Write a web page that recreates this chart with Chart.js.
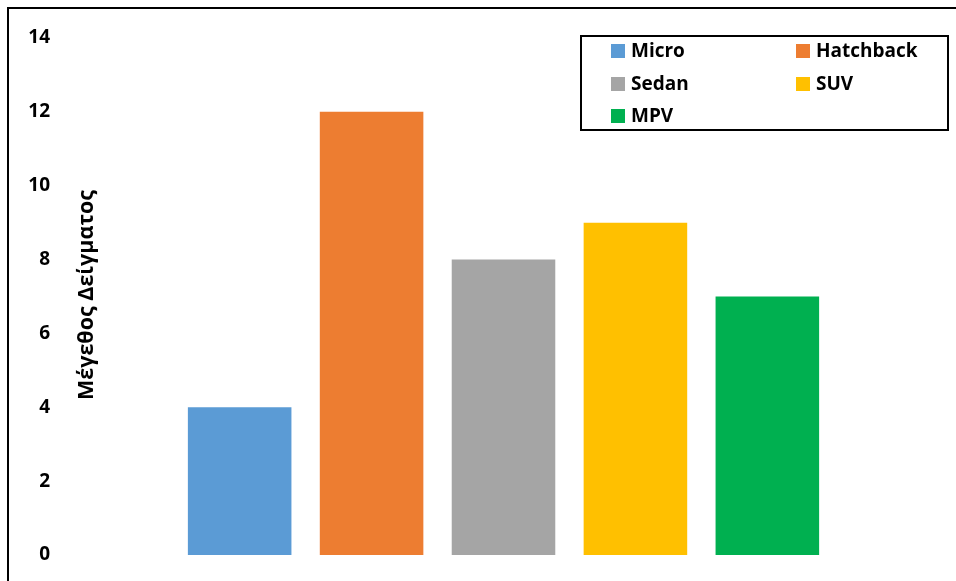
<!DOCTYPE html>
<html>
<head>
<meta charset="utf-8">
<script src="https://cdn.jsdelivr.net/npm/chart.js@4"></script>
<style>
  html, body { margin: 0; padding: 0; background: #fff; }
  #wrap { position: relative; width: 956px; height: 581px; }
  #frame { position: absolute; left: 7px; top: 7px; right: 0; bottom: 0; border-top: 2px solid #000; border-left: 2px solid #000; pointer-events: none; }
  #legend { position: absolute; left: 580px; top: 35px; width: 365px; height: 92px; border: 2px solid #000; font-family: "Open Sans", sans-serif; font-weight: bold; font-size: 19px; color: #000; }
  .item { position: absolute; height: 24px; line-height: 24px; white-space: nowrap; }
  .sw { display: inline-block; width: 14px; height: 14px; margin-right: 6px; vertical-align: -1px; }
</style>
</head>
<body>
<div id="wrap">
  <canvas id="grafico" width="956" height="581"></canvas>
  <div id="frame"></div>
  <div id="legend"></div>
</div>
<script>
var tipos = ["Micro", "Hatchback", "Sedan", "SUV", "MPV"];
var valores = [4, 12, 8, 9, 7];
var colores = ["#5B9BD5", "#ED7D31", "#A5A5A5", "#FFC000", "#00B050"];
var tituloY = "Μέγεθος Δείγματος";

var datasets = tipos.map(function (t, i) {
    return {
        label: t,
        data: [valores[i]],
        backgroundColor: colores[i],
        barPercentage: 0.785,
        categoryPercentage: 0.737
    };
});

// titulo del eje Y dibujado dentro del area, como en el original
var tituloPlugin = {
    id: "tituloY",
    afterDraw: function (chart) {
        var c = chart.ctx;
        c.save();
        c.translate(87, 295);
        c.rotate(-Math.PI / 2);
        c.font = "bold 21.5px 'Open Sans', sans-serif";
        c.fillStyle = "#000";
        c.textAlign = "center";
        c.textBaseline = "middle";
        c.fillText(tituloY, 0, 0);
        c.restore();
    }
};

var ctx = document.getElementById("grafico").getContext("2d");
var myChart = new Chart(ctx, {
    type: "bar",
    data: { labels: [""], datasets: datasets },
    options: {
        responsive: false,
        animation: false,
        layout: { padding: { top: 38, bottom: 26, left: 20, right: 5 } },
        plugins: { legend: { display: false }, tooltip: { enabled: false } },
        scales: {
            x: { display: false },
            y: {
                min: 0,
                max: 14,
                ticks: {
                    stepSize: 2,
                    padding: 6,
                    color: "#000",
                    font: { family: "'Open Sans'", weight: "bold", size: 19 }
                },
                grid: { display: false, drawTicks: false },
                border: { display: false },
                afterFit: function (s) { s.width = 36; }
            }
        }
    },
    plugins: [tituloPlugin]
});

// leyenda con borde, 2 columnas
var leg = document.getElementById("legend");
tipos.forEach(function (t, i) {
    var d = document.createElement("div");
    d.className = "item";
    d.style.left = (29 + (i % 2) * 185) + "px";
    d.style.top = (1 + Math.floor(i / 2) * 32.5) + "px";
    d.innerHTML = '<span class="sw" style="background:' + colores[i] + '"></span>' + t;
    leg.appendChild(d);
});
</script>
</body>
</html>
